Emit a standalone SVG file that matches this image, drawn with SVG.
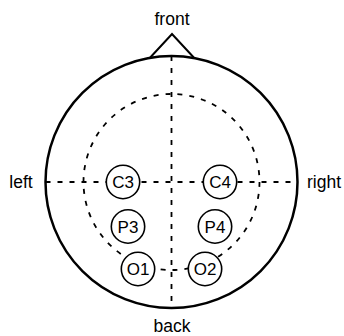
<svg xmlns="http://www.w3.org/2000/svg" width="344" height="336" viewBox="0 0 344 336">
<style>
.lbl{font-family:"Liberation Sans",Arial,sans-serif;font-size:17.5px;fill:#000;text-anchor:middle}
.el text{font-family:"Liberation Sans",Arial,sans-serif;font-size:17px;fill:#000;text-anchor:middle}
.dash{fill:none;stroke:#000;stroke-width:1.8;stroke-dasharray:5 7}
.el circle{fill:#fff;stroke:#000;stroke-width:1.6}
</style>
<rect width="344" height="336" fill="#fff"/>
<g id="connectors">
<line class="dash" x1="45.5" y1="182" x2="297.5" y2="182"/>
<line class="dash" x1="171.5" y1="56" x2="171.5" y2="308"/>
<circle class="dash" cx="171.5" cy="182" r="88"/>
</g>
<g id="head">
<circle cx="171.5" cy="182" r="126" fill="none" stroke="#000" stroke-width="2.5"/>
<polyline points="150,57.8 172,34 194,57.8" fill="none" stroke="#000" stroke-width="2"/>
</g>
<g id="front"><text class="lbl" x="172" y="25">front</text></g>
<g id="back"><text class="lbl" x="172" y="332">back</text></g>
<g id="left"><text class="lbl" x="21" y="188">left</text></g>
<g id="right"><text class="lbl" x="324" y="188">right</text></g>
<g id="C3" class="el"><circle cx="123" cy="182" r="16.7"/><text x="123" y="188">C3</text></g>
<g id="C4" class="el"><circle cx="220" cy="182" r="16.7"/><text x="220" y="188">C4</text></g>
<g id="P3" class="el"><circle cx="128" cy="226.5" r="16.7"/><text x="128" y="232.5">P3</text></g>
<g id="P4" class="el"><circle cx="215" cy="226.5" r="16.7"/><text x="215" y="232.5">P4</text></g>
<g id="O1" class="el"><circle cx="138" cy="269" r="16.7"/><text x="138" y="275">O1</text></g>
<g id="O2" class="el"><circle cx="205" cy="269" r="16.7"/><text x="205" y="275">O2</text></g>
</svg>
